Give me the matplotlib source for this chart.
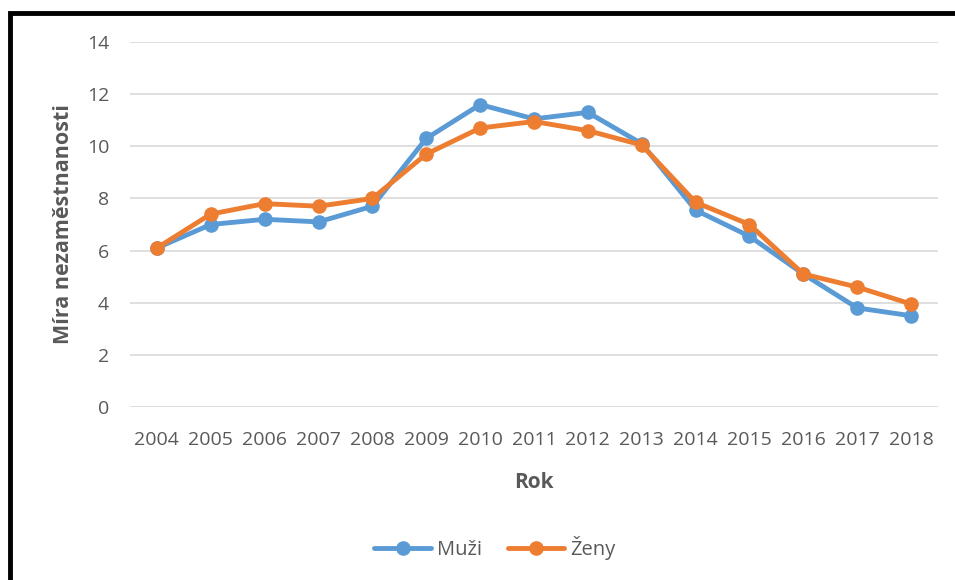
import matplotlib.pyplot as plt
from matplotlib.patches import Rectangle

years = ['2004', '2005', '2006', '2007', '2008', '2009', '2010', '2011',
         '2012', '2013', '2014', '2015', '2016', '2017', '2018']
muzi = [6.1, 7.0, 7.2, 7.1, 7.7, 10.3, 11.6, 11.05, 11.3, 10.1, 7.55, 6.55, 5.1, 3.8, 3.5]
zeny = [6.1, 7.4, 7.8, 7.7, 8.0, 9.7, 10.7, 10.95, 10.6, 10.05, 7.85, 7.0, 5.1, 4.6, 3.95]
yticks = [0, 2, 4, 6, 8, 10, 12, 14]

plt.rcParams['font.family'] = ['Open Sans', 'DejaVu Sans']
grey = '#595959'

fig = plt.figure(figsize=(9.55, 5.8), dpi=100)
ax = fig.add_axes([130/955, 1 - 407/580, 808/955, 365/580])

x = range(len(years))
ax.plot(x, muzi, color='#5B9BD5', lw=3.5, marker='o', ms=9.5, label='Muži', solid_capstyle='round')
ax.plot(x, zeny, color='#ED7D31', lw=3.5, marker='o', ms=9.5, label='Ženy', solid_capstyle='round')

ax.set_xlim(-0.5, len(years) - 0.5)
ax.set_ylim(0, 14)
ax.set_yticks(yticks)
ax.set_xticks(list(x))
ax.set_xticklabels(years)
ax.grid(axis='y', color='#D9D9D9', lw=1.2)
ax.set_axisbelow(True)
for s in ax.spines.values():
    s.set_visible(False)
ax.tick_params(length=0, labelsize=14, colors=grey)
ax.tick_params(axis='x', pad=17)
ax.tick_params(axis='y', pad=15)

ax.set_xlabel('Rok', fontsize=15, fontweight='bold', color=grey, labelpad=17)
ax.set_ylabel('Míra nezaměstnanosti', fontsize=15.5, fontweight='bold', color=grey, labelpad=9)

fig.legend(loc='center', bbox_to_anchor=(495/955, 1 - 548/580), ncol=2, frameon=False,
           fontsize=14.5, labelcolor=grey, handlelength=2.8, columnspacing=1.3, handletextpad=0.3)

# black frame, cut off at right and bottom
fig.patches.append(Rectangle((10/955, -0.1), 1.1, 1 - 13/580 + 0.1, transform=fig.transFigure,
                             fill=False, edgecolor='black', lw=3.5))

fig.savefig('out.png', dpi=100)
